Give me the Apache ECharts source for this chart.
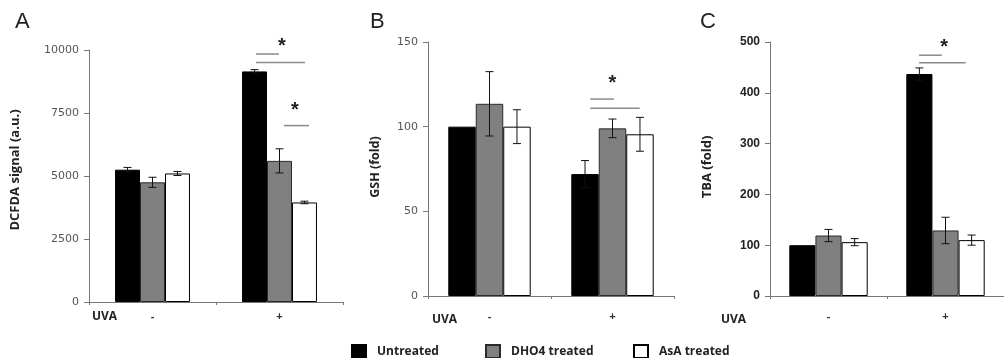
<!DOCTYPE html>
<html><head><meta charset="utf-8">
<script src="https://cdn.jsdelivr.net/npm/echarts@6/dist/echarts.min.js"></script>
<style>html,body{margin:0;padding:0;background:#fff}#c{width:1004px;height:358px}</style>
</head><body><div id="c"></div>
<script>
// ---------- DATA ----------
const categories = ['-', '+'];
const seriesNames = ['Untreated', 'DHO4 treated', 'AsA treated'];

// Panel A: DCFDA signal (a.u.)
const dcfdaUntreated = [5250, 9150];
const dcfdaUntreatedErr = [90, 70];
const dcfdaDHO4 = [4750, 5600];
const dcfdaDHO4Err = [200, 480];
const dcfdaAsA = [5100, 3950];
const dcfdaAsAErr = [80, 50];
const dcfdaTicks = [0, 2500, 5000, 7500, 10000];

// Panel B: GSH (fold)
const gshUntreated = [100, 72];
const gshUntreatedErr = [0, 8];
const gshDHO4 = [113.5, 99];
const gshDHO4Err = [19, 5.5];
const gshAsA = [100, 95.5];
const gshAsAErr = [10, 10];
const gshTicks = [0, 50, 100, 150];

// Panel C: TBA (fold)
const tbaUntreated = [100, 437];
const tbaUntreatedErr = [0, 12];
const tbaDHO4 = [119, 129];
const tbaDHO4Err = [12, 26];
const tbaAsA = [106, 110];
const tbaAsAErr = [7, 10];
const tbaTicks = [0, 100, 200, 300, 400, 500];

// significance brackets: [category, from (bar slot offset), to (bar slot offset), value]
const dcfdaBrackets = [[1, -0.94, -0.02, 9840], [1, -0.94, 1.02, 9500], [1, 0.18, 1.18, 7000]];
const dcfdaStars = [[1, 0.1, 10280], [1, 0.62, 7740]];
const gshBrackets = [[1, -0.81, 0.05, 116.3], [1, -0.81, 0.99, 110.9]];
const gshStars = [[1, 0.0, 127.6]];
const tbaBrackets = [[1, -1.01, -0.14, 474], [1, -1.01, 0.77, 459]];
const tbaStars = [[1, -0.05, 497]];

// ---------- CHART ----------
const chart = echarts.init(document.getElementById('c'));
const barColors = ['#000000', '#808080', '#ffffff'];
const barBorders = ['#000000', '#2a2a2a', '#000000'];
const panels = [
  {vals: [dcfdaUntreated, dcfdaDHO4, dcfdaAsA], errs: [dcfdaUntreatedErr, dcfdaDHO4Err, dcfdaAsAErr], ticks: dcfdaTicks,
   brackets: dcfdaBrackets, stars: dcfdaStars, gap: 0.41,
   grid: {left: 89, right: 661, top: 50, bottom: 56}, labelMargin: 9,
   tickFont: {color: '#555', fontFamily: 'DejaVu Sans', fontSize: 11}},
  {vals: [gshUntreated, gshDHO4, gshAsA], errs: [gshUntreatedErr, gshDHO4Err, gshAsAErr], ticks: gshTicks,
   brackets: gshBrackets, stars: gshStars, gap: 0.33,
   grid: {left: 428, right: 330, top: 42, bottom: 62}, labelMargin: 15,
   tickFont: {color: '#555', fontFamily: 'DejaVu Sans', fontSize: 11}},
  {vals: [tbaUntreated, tbaDHO4, tbaAsA], errs: [tbaUntreatedErr, tbaDHO4Err, tbaAsAErr], ticks: tbaTicks,
   brackets: tbaBrackets, stars: tbaStars, gap: 0.33,
   grid: {left: 770, right: -11, top: 42, bottom: 62}, labelMargin: 15,
   tickFont: {color: '#222', fontFamily: 'Liberation Sans', fontSize: 12, fontWeight: 'bold'}}
];

const grids = [], xAxes = [], yAxes = [], series = [];
panels.forEach((p, pi) => {
  grids.push(p.grid);
  xAxes.push({
    type: 'category', gridIndex: pi, data: categories, boundaryGap: true,
    axisLine: {show: true, lineStyle: {color: '#777', width: 1}},
    axisTick: {show: true, length: 3, inside: false, lineStyle: {color: '#777'}},
    axisLabel: {margin: p.labelMargin, color: '#333', fontFamily: 'Liberation Sans', fontWeight: 'bold', fontSize: 11},
    splitLine: {show: false}
  });
  const step = p.ticks[1] - p.ticks[0];
  yAxes.push({
    type: 'value', gridIndex: pi, min: p.ticks[0], max: p.ticks[p.ticks.length - 1], interval: step,
    axisLine: {show: true, lineStyle: {color: '#777', width: 1}},
    axisTick: {show: true, length: 5, inside: false, lineStyle: {color: '#777'}},
    axisLabel: Object.assign({margin: 10, formatter: v => String(v)}, p.tickFont),
    splitLine: {show: false}
  });
  p.vals.forEach((v, si) => {
    series.push({
      type: 'bar', name: seriesNames[si], xAxisIndex: pi, yAxisIndex: pi, data: v,
      barGap: '0%', barCategoryGap: (p.gap * 100) + '%',
      itemStyle: {color: barColors[si], borderColor: barBorders[si], borderWidth: 1},
      emphasis: {disabled: true}, animation: false
    });
  });
  // error bars
  const errData = [];
  p.vals.forEach((v, si) => v.forEach((val, ci) => errData.push([ci, si, val, p.errs[si][ci]])));
  const gap = p.gap;
  series.push({
    type: 'custom', xAxisIndex: pi, yAxisIndex: pi, data: errData, z: 5, animation: false, silent: true,
    encode: {x: 0, y: 2},
    renderItem: function (params, api) {
      const ci = api.value(0), si = api.value(1), val = api.value(2), err = api.value(3);
      if (!err) return {type: 'group', children: []};
      const bw = api.size([1, 0])[0] * (1 - gap) / 3;
      const x = api.coord([ci, val])[0] + (si - 1) * bw;
      const yt = api.coord([ci, val + err])[1];
      const yb = api.coord([ci, val - err])[1];
      const cw = 4;
      const st = {stroke: '#111', lineWidth: 1};
      return {type: 'group', children: [
        {type: 'line', shape: {x1: x, y1: yt, x2: x, y2: yb}, style: st},
        {type: 'line', shape: {x1: x - cw, y1: yt, x2: x + cw, y2: yt}, style: st},
        {type: 'line', shape: {x1: x - cw, y1: yb, x2: x + cw, y2: yb}, style: st}
      ]};
    }
  });
  // significance brackets
  series.push({
    type: 'custom', xAxisIndex: pi, yAxisIndex: pi, data: p.brackets, z: 5, animation: false, silent: true,
    encode: {x: 0, y: 3},
    renderItem: function (params, api) {
      const ci = api.value(0), a = api.value(1), b = api.value(2), val = api.value(3);
      const bw = api.size([1, 0])[0] * (1 - gap) / 3;
      const c = api.coord([ci, val]);
      return {type: 'line', shape: {x1: c[0] + a * bw, y1: c[1], x2: c[0] + b * bw, y2: c[1]},
        style: {stroke: '#8a8a8a', lineWidth: 1.5}};
    }
  });
  series.push({
    type: 'custom', xAxisIndex: pi, yAxisIndex: pi, data: p.stars, z: 5, animation: false, silent: true,
    encode: {x: 0, y: 2},
    renderItem: function (params, api) {
      const ci = api.value(0), a = api.value(1), val = api.value(2);
      const bw = api.size([1, 0])[0] * (1 - gap) / 3;
      const c = api.coord([ci, val]);
      return {type: 'text', style: {text: '*', x: c[0] + a * bw, y: c[1] + 4,
        font: 'bold 20px "Liberation Sans"', fill: '#222', align: 'center', verticalAlign: 'middle'}};
    }
  });
});

function txt(text, x, y, opts) {
  return Object.assign({type: 'text', x: x, y: y, silent: true,
    style: Object.assign({text: text, fill: '#222'}, opts.style)}, opts.el || {});
}

const option = {
  animation: false,
  backgroundColor: '#ffffff',
  grid: grids, xAxis: xAxes, yAxis: yAxes, series: series,
  legend: [
    {data: ['Untreated'], left: 351, top: 344},
    {data: ['DHO4 treated'], left: 485, top: 344},
    {data: ['AsA treated'], left: 633, top: 344}
  ].map(l => Object.assign(l, {
    orient: 'horizontal', itemWidth: 14, itemHeight: 13, selectedMode: false, padding: 0,
    icon: 'rect',
    textStyle: {fontFamily: 'Open Sans', fontWeight: 'bold', fontSize: 12, color: '#222', padding: [0, 0, 0, 6]}
  })),
  graphic: [
    txt('A', 15, 11, {style: {font: '22px "Liberation Sans"', align: 'left', verticalAlign: 'top'}}),
    txt('B', 370, 11, {style: {font: '22px "Liberation Sans"', align: 'left', verticalAlign: 'top'}}),
    txt('C', 700, 11, {style: {font: '22px "Liberation Sans"', align: 'left', verticalAlign: 'top'}}),
    txt('UVA', 92, 317, {style: {font: 'bold 12px "Open Sans"', align: 'left', verticalAlign: 'middle'}}),
    txt('UVA', 432, 320, {style: {font: 'bold 12px "Open Sans"', align: 'left', verticalAlign: 'middle'}}),
    txt('UVA', 721, 320, {style: {font: 'bold 12px "Open Sans"', align: 'left', verticalAlign: 'middle'}}),
    txt('DCFDA signal (a.u.)', 15, 170, {el: {rotation: Math.PI / 2}, style: {font: 'bold 13px "Open Sans"', align: 'center', verticalAlign: 'middle'}}),
    txt('GSH (fold)', 375, 167, {el: {rotation: Math.PI / 2}, style: {font: 'bold 12.5px "Open Sans"', align: 'center', verticalAlign: 'middle'}}),
    txt('TBA (fold)', 707, 167, {el: {rotation: Math.PI / 2}, style: {font: 'bold 13px "Open Sans"', align: 'center', verticalAlign: 'middle'}})
  ]
};
chart.setOption(option);
</script>
</body></html>
